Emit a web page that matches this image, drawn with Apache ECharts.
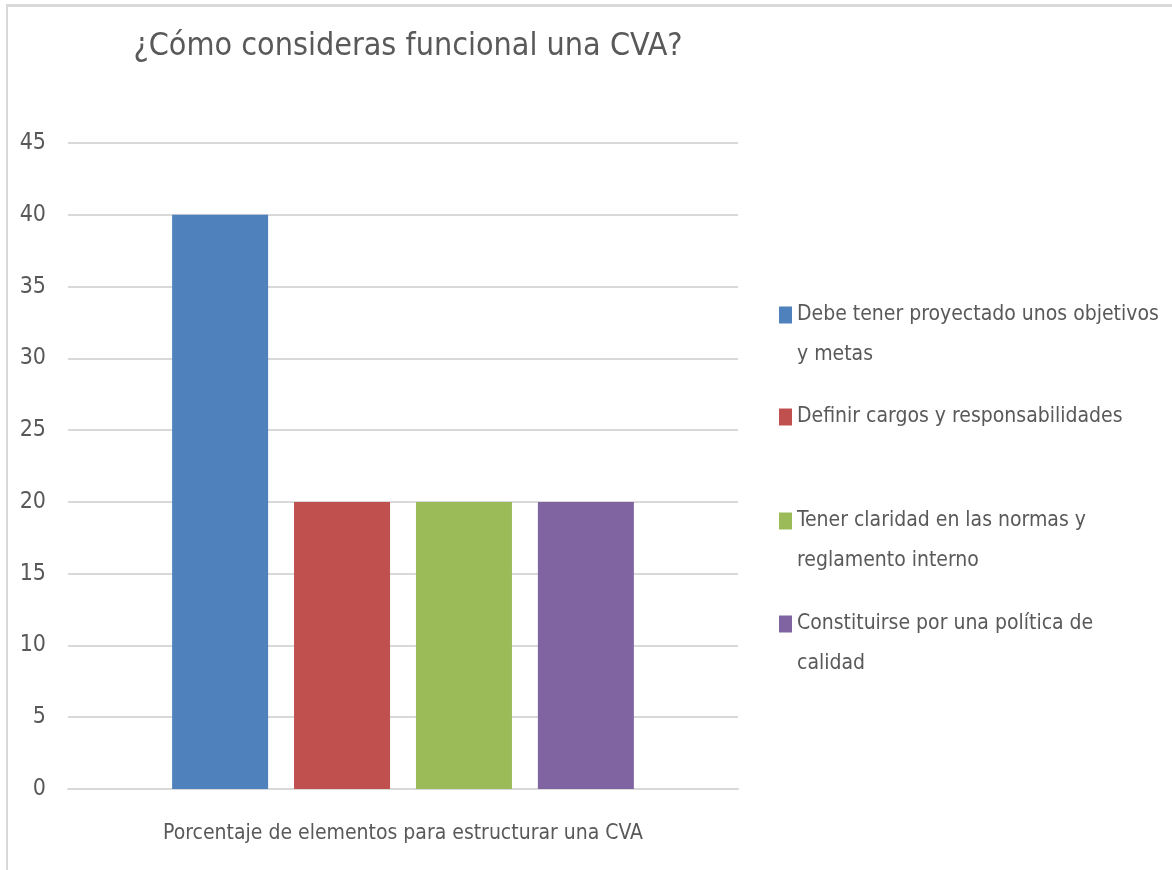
<!DOCTYPE html>
<html>
<head>
<meta charset="utf-8">
<script src="https://cdn.jsdelivr.net/npm/echarts@6/dist/echarts.min.js"></script>
<style>
  html, body { margin: 0; padding: 0; background: #fff; }
  #main { position: absolute; left: 0; top: 0; width: 1172px; height: 870px; }
  .frame {
    position: absolute; left: 6px; top: 4px; right: 0; bottom: 0;
    border-top: 3px solid #d9d9d9; border-left: 2px solid #d9d9d9;
    pointer-events: none;
  }
</style>
</head>
<body>
<div id="main"></div>
<div class="frame"></div>
<script>
// datos del grafico
var titulo = "¿Cómo consideras funcional una CVA?";
var categorias = ["Porcentaje de elementos para estructurar una CVA"];
var series = [
  "Debe tener proyectado unos objetivos y metas",
  "Definir cargos y responsabilidades",
  "Tener claridad en las normas y reglamento interno",
  "Constituirse por una política de calidad",
];
var valores = [40, 20, 20, 20];
var colores = ["#4f81bd", "#c0504d", "#9bbb59", "#8064a2"];
// texto de la leyenda tal como se corta en la imagen
var leyenda = [
  ["Debe tener proyectado unos objetivos", "y metas"],
  ["Definir cargos y responsabilidades"],
  ["Tener claridad en las normas y", "reglamento interno"],
  ["Constituirse por una política de", "calidad"],
];
var yMin = 0, yMax = 45, yPaso = 5;

var fuente = '"Liberation Sans Narrow", "DejaVu Sans Condensed", "Open Sans", sans-serif';
var gris = "#595959";

var chartDom = document.getElementById("main");
var myChart = echarts.init(chartDom);

// centro de la primera linea de cada entrada
var centros = [315, 417, 521, 624];
var lineH = 40;

var legends = series.map(function (name, i) {
  var lineas = leyenda[i];
  var n = lineas.length > 1 ? 3 : 1;
  return {
    orient: "vertical",
    left: 779,
    top: centros[i] - (n * lineH) / 2,
    padding: 0,
    itemWidth: 13,
    itemHeight: 17,
    itemGap: 0,
    icon: "rect",
    selectedMode: false,
    data: [name],
    formatter: function () {
      // linea vacia arriba para que el icono quede a la altura de la primera linea
      return lineas.length > 1 ? "\n" + lineas.join("\n") : lineas[0];
    },
    textStyle: {
      color: gris,
      fontFamily: fuente,
      fontSize: 21,
      lineHeight: lineH,
    },
  };
});

var option = {
  animation: false,
  backgroundColor: "#fff",
  graphic: [
    {
      type: "text",
      x: 408,
      y: 47,
      style: {
        text: titulo,
        fill: gris,
        font: "32px " + fuente,
        textAlign: "center",
        textVerticalAlign: "middle",
      },
    },
  ],
  legend: legends,
  grid: { left: 68, right: 434, top: 143, bottom: 81 },
  xAxis: {
    type: "category",
    data: categorias,
    axisTick: { show: false },
    axisLine: { lineStyle: { color: "#d9d9d9", width: 2 } },
    axisLabel: { color: gris, fontFamily: fuente, fontSize: 21, margin: 34 },
  },
  yAxis: {
    type: "value",
    min: yMin,
    max: yMax,
    interval: yPaso,
    axisLine: { show: false },
    axisTick: { show: false },
    splitLine: { lineStyle: { color: "#d9d9d9", width: 2 } },
    axisLabel: { color: gris, fontFamily: fuente, fontSize: 23, margin: 22 },
  },
  series: series.map(function (name, i) {
    return {
      name: name,
      type: "bar",
      data: [valores[i]],
      barWidth: 96,
      barGap: "27%",
      itemStyle: { color: colores[i] },
    };
  }),
};

option && myChart.setOption(option);
</script>
</body>
</html>
